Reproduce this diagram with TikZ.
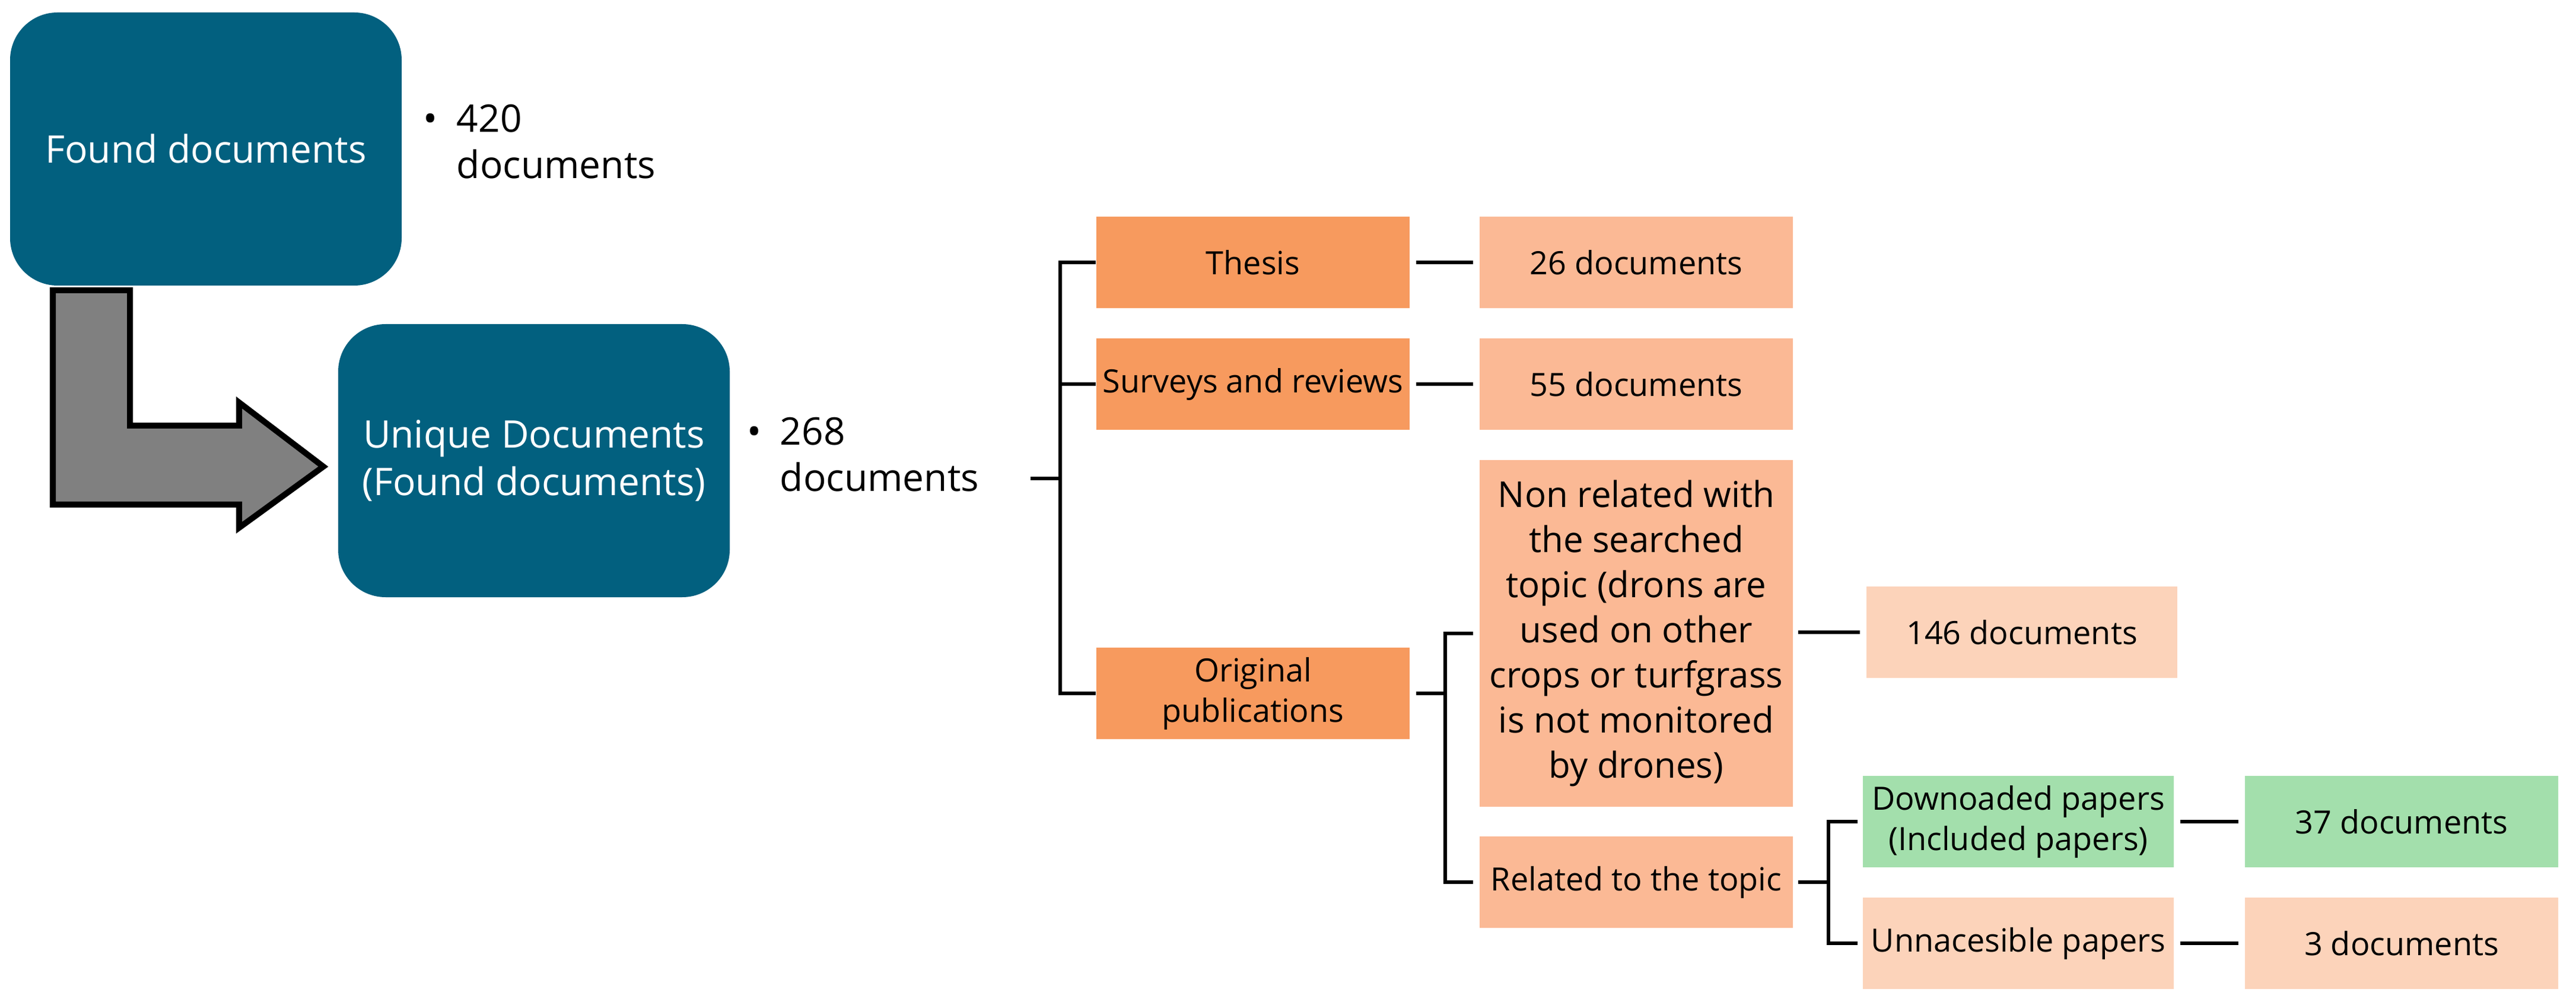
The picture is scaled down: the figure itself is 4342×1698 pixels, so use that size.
\documentclass[tikz,border=0pt]{standalone}
\usepackage{fontspec}
\setmainfont{Open Sans}
\begin{document}
\begin{tikzpicture}[x=0.25pt,y=-0.25pt,
 blue/.style={draw=none,fill=dblue,rounded corners=20pt,minimum width=165pt,minimum height=115pt,text=white,font=\fontsize{16}{20}\selectfont,align=center},
 box/.style={draw=none,minimum width=132pt,minimum height=38.7pt,align=center,font=\fontsize{13.5}{16}\selectfont,inner sep=1pt},
 l1/.style={box,fill=or1}, l2/.style={box,fill=or2}, l3/.style={box,fill=or3}, gr/.style={box,fill=grn},
 ln/.style={line width=1.5pt},
 txt/.style={font=\fontsize{16}{19.5}\selectfont,align=left,inner sep=0pt}]
\definecolor{dblue}{HTML}{02607F}
\definecolor{or1}{HTML}{F79A5E}
\definecolor{or2}{HTML}{FBB995}
\definecolor{or3}{HTML}{FCD3BA}
\definecolor{grn}{HTML}{A3DFAC}
\useasboundingbox (0,0) rectangle (4342,1698);
\node[blue] (found) at (347,251) {Found documents};
\node[blue] (uniq) at (900,776) {Unique Documents\\(Found documents)};
\filldraw[fill=black!50,line width=2.5pt,line join=miter] (89,489)--(219,489)--(219,717)--(403,717)--(403,678)--(545,786)--(403,889)--(403,850)--(89,850)--cycle;
\node[txt,anchor=base west] (b1) at (713,223) {\textbullet};
\node[txt,anchor=base west] (t1) at (769,223) {420};
\node[txt,anchor=base west] (t1b) at (769,301) {documents};
\node[txt,anchor=base west] (b2) at (1259,750) {\textbullet};
\node[txt,anchor=base west] (t2) at (1314,750) {268};
\node[txt,anchor=base west] (t2b) at (1314,828) {documents};
\node[l1] (thesis) at (2112,442) {Thesis};
\node[l1] (surv) at (2112,647) {Surveys and reviews};
\node[l1,font=\fontsize{13.5}{17}\selectfont] (orig) at (2112,1168) {Original\\publications};
\node[l2] (d26) at (2758,442) {26 documents};
\node[l2] (d55) at (2758,647) {55 documents};
\node[l2,minimum height=146pt,font=\fontsize{15}{19}\selectfont] (nonrel) at (2758,1067) {Non related with\\the searched\\topic (drons are\\used on other\\crops or turfgrass\\is not monitored\\by drones)};
\node[l2] (rel) at (2758,1486) {Related to the topic};
\node[l3,minimum width=131pt] (d146) at (3408,1065) {146 documents};
\node[gr,minimum width=131pt,font=\fontsize{13.5}{17}\selectfont] (down) at (3402,1384) {Downoaded papers\\(Included papers)};
\node[l3,minimum width=131pt] (unn) at (3402,1589) {Unnacesible papers};
\node[gr] (d37) at (4048,1384) {37 documents};
\node[l3] (d3) at (4048,1589) {3 documents};
\coordinate (stub) at (1737,806);
\draw[ln] (stub) -- (1788,806);
\draw[ln] (thesis.west) -- ++(-60,0) |- (orig.west);
\draw[ln] (surv.west) -- ++(-60,0);
\draw[ln] ([xshift=2.5pt]thesis.east) -- ([xshift=-2.5pt]d26.west);
\draw[ln] ([xshift=2.5pt]surv.east) -- ([xshift=-2.5pt]d55.west);
\draw[ln] ([xshift=2.5pt]orig.east) -- ++(49,0) coordinate (f1);
\draw[ln] ([xshift=-2.5pt]nonrel.west) -| (f1) |- ([xshift=-2.5pt]rel.west);
\draw[ln] ([xshift=2pt]nonrel.east|-d146) -- ([xshift=-2.5pt]d146.west);
\draw[ln] ([xshift=2pt]rel.east) -- ++(51,0) coordinate (f2);
\draw[ln] ([xshift=-2pt]down.west) -| (f2) |- ([xshift=-2pt]unn.west);
\draw[ln] ([xshift=2.5pt]down.east) -- ([xshift=-2.5pt]d37.west);
\draw[ln] ([xshift=2.5pt]unn.east) -- ([xshift=-2.5pt]d3.west);
\end{tikzpicture}
\end{document}
